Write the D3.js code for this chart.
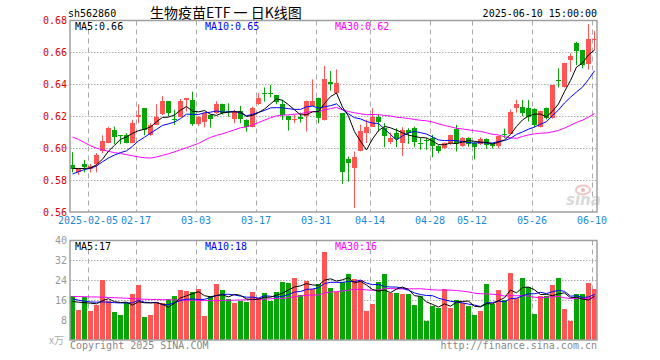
<!DOCTYPE html>
<html><head><meta charset="utf-8">
<script src="https://cdn.jsdelivr.net/npm/d3@7"></script>
<style>body{margin:0;background:#fff}svg{display:block}</style>
</head><body><svg id="c" width="660" height="360"></svg>
<script>
const dates = ["2025-01-23","2025-01-24","2025-01-27",
"2025-02-05","2025-02-06","2025-02-07","2025-02-10","2025-02-11","2025-02-12","2025-02-13","2025-02-14","2025-02-17","2025-02-18","2025-02-19","2025-02-20","2025-02-21","2025-02-24","2025-02-25","2025-02-26","2025-02-27","2025-02-28",
"2025-03-03","2025-03-04","2025-03-05","2025-03-06","2025-03-07","2025-03-10","2025-03-11","2025-03-12","2025-03-13","2025-03-14","2025-03-17","2025-03-18","2025-03-19","2025-03-20","2025-03-21","2025-03-24","2025-03-25","2025-03-26","2025-03-27","2025-03-28","2025-03-31",
"2025-04-01","2025-04-02","2025-04-03","2025-04-07","2025-04-08","2025-04-09","2025-04-10","2025-04-11","2025-04-14","2025-04-15","2025-04-16","2025-04-17","2025-04-18","2025-04-21","2025-04-22","2025-04-23","2025-04-24","2025-04-25","2025-04-28","2025-04-29","2025-04-30",
"2025-05-06","2025-05-07","2025-05-08","2025-05-09","2025-05-12","2025-05-13","2025-05-14","2025-05-15","2025-05-16","2025-05-19","2025-05-20","2025-05-21","2025-05-22","2025-05-23","2025-05-26","2025-05-27","2025-05-28","2025-05-29","2025-05-30",
"2025-06-03","2025-06-04","2025-06-05","2025-06-06","2025-06-09","2025-06-10"];

const open = [0.5894,0.5852,0.5898,0.5869,0.5902,0.5985,0.6035,0.6115,0.6081,0.6085,
0.6035,0.6198,0.6250,0.6081,0.6146,0.6213,0.6296,0.6185,0.6198,0.6302,
0.6302,0.6150,0.6166,0.6208,0.6219,0.6277,0.6231,0.6183,0.6233,0.6177,
0.6135,0.6277,0.6346,0.6346,0.6331,0.6277,0.6202,0.6179,0.6196,0.6202,
0.6267,0.6313,0.6177,0.6415,0.6344,0.6219,0.5933,0.5877,0.5982,0.6098,
0.6135,0.6196,0.6127,0.6036,0.6094,0.6031,0.6115,0.6126,0.6034,0.6052,
0.6063,0.6015,0.5998,0.6031,0.6120,0.6013,0.6062,0.6033,0.6029,0.6058,
0.6027,0.6015,0.6091,0.6090,0.6250,0.6260,0.6250,0.6245,0.6135,0.6250,
0.6188,0.6429,0.6383,0.6554,0.6660,0.6614,0.6527,0.6675];
const high = [0.5975,0.5877,0.5927,0.5902,0.5969,0.6081,0.6135,0.6135,0.6081,0.6094,
0.6177,0.6275,0.6250,0.6156,0.6275,0.6327,0.6296,0.6240,0.6308,0.6313,
0.6354,0.6202,0.6223,0.6210,0.6294,0.6279,0.6281,0.6240,0.6265,0.6180,
0.6260,0.6344,0.6381,0.6396,0.6333,0.6302,0.6204,0.6208,0.6223,0.6298,
0.6431,0.6317,0.6515,0.6483,0.6494,0.6221,0.5948,0.5979,0.6148,0.6179,
0.6250,0.6215,0.6156,0.6098,0.6125,0.6131,0.6125,0.6135,0.6065,0.6063,
0.6083,0.6017,0.6035,0.6085,0.6146,0.6070,0.6068,0.6040,0.6068,0.6062,
0.6032,0.6078,0.6123,0.6242,0.6304,0.6302,0.6302,0.6250,0.6235,0.6255,
0.6397,0.6500,0.6535,0.6594,0.6667,0.6614,0.6777,0.6735];
const low = [0.5848,0.5833,0.5848,0.5848,0.5848,0.5969,0.6031,0.6025,0.6025,0.6031,
0.6031,0.6156,0.6081,0.6077,0.6146,0.6206,0.6198,0.6146,0.6194,0.6229,
0.6140,0.6140,0.6131,0.6129,0.6215,0.6210,0.6198,0.6156,0.6156,0.6104,
0.6131,0.6271,0.6292,0.6319,0.6275,0.6177,0.6110,0.6156,0.6160,0.6104,
0.6265,0.6156,0.6173,0.6360,0.6338,0.5776,0.5790,0.5625,0.5980,0.6033,
0.6133,0.6104,0.6006,0.6027,0.6006,0.5952,0.6027,0.6006,0.5990,0.5990,
0.5943,0.5969,0.5996,0.6021,0.5979,0.6008,0.6010,0.5930,0.6020,0.5996,
0.5998,0.5998,0.6063,0.6088,0.6223,0.6200,0.6167,0.6130,0.6130,0.6180,
0.6185,0.6380,0.6380,0.6479,0.6521,0.6500,0.6492,0.6615];
const close = [0.5871,0.5875,0.5885,0.5890,0.5958,0.6046,0.6127,0.6067,0.6077,0.6035,
0.6160,0.6208,0.6115,0.6146,0.6198,0.6296,0.6219,0.6181,0.6296,0.6313,
0.6150,0.6198,0.6221,0.6181,0.6277,0.6223,0.6227,0.6229,0.6183,0.6135,
0.6250,0.6317,0.6342,0.6342,0.6292,0.6208,0.6177,0.6183,0.6185,0.6296,
0.6296,0.6188,0.6433,0.6402,0.6410,0.5853,0.5904,0.5945,0.6109,0.6133,
0.6196,0.6166,0.6078,0.6065,0.6057,0.6115,0.6094,0.6036,0.6030,0.6048,
0.6016,0.5981,0.6031,0.6083,0.6031,0.6066,0.6025,0.6010,0.6059,0.6022,
0.6015,0.6077,0.6088,0.6225,0.6276,0.6220,0.6198,0.6145,0.6230,0.6188,
0.6397,0.6425,0.6533,0.6577,0.6610,0.6521,0.6681,0.6683];
const volume = [17.7,12.1,17.2,11.7,14.1,24.2,15.7,11.3,10.1,14.8,
18.3,22.3,9.3,9.9,15.3,15.0,16.4,17.7,20.1,19.7,
19.1,20.5,9.7,17.7,22.7,20.1,16.4,14.9,15.7,15.3,
19.3,16.8,18.9,15.8,19.3,23.4,23.1,25.0,18.1,23.8,
20.7,22.4,35.2,20.9,19.2,23.3,26.7,24.6,24.1,11.7,
14.5,23.3,26.7,19.0,18.9,18.5,18.5,14.1,17.7,7.7,
13.7,13.0,20.5,13.0,16.1,14.9,13.7,10.1,11.7,22.6,
14.5,20.1,16.1,27.1,17.0,25.0,21.3,10.5,17.6,17.5,
22.1,25.0,12.5,7.8,18.5,18.5,23.0,20.5];

// moving-average values for days whose window starts before the first shown day
const priceMa5Head = [0.5872,0.5872,0.5873,0.5876];
const priceMa10Head = [0.5838,0.5852,0.5866,0.5874,0.5888,0.5915,0.5938,0.5957,0.5972];
const priceMa30Head = [0.6070,0.6055,0.6035,0.6015,0.6000,0.5990,0.5980,0.5972,0.5966,0.5960,
0.5952,0.5945,0.5940,0.5938,0.5945,0.5955,0.5965,0.5977,0.5990,0.6003,
0.6016,0.6030,0.6050,0.6068,0.6080,0.6090,0.6102,0.6115,0.6128];
const volMa5Head = [15.5,15.2,15.0,14.8];
const volMa10Head = [16.5,16.0,15.6,15.3,15.2,15.3,15.2,15.0,14.9];
const volMa30Head = [17.5,17.5,17.4,17.3,17.3,17.2,17.1,17.0,16.9,16.8,16.6,16.5,16.4,16.3,16.3,16.2,16.2,16.1,16.1,16.0,16.0,15.9,15.9,15.8,15.8,15.9,16.0,16.0,16.1];

const priceTicks = [0.56,0.58,0.60,0.62,0.64,0.66,0.68];
const volTicks = [8,16,24,32,40];
const dateTicks = ["2025-02-05","2025-02-17","2025-03-03","2025-03-17","2025-03-31","2025-04-14","2025-04-28","2025-05-12","2025-05-26","2025-06-10"];
const dateTickLabels = ["2025-02-05","02-17","03-03","03-17","03-31","04-14","04-28","05-12","05-26","06-10"];
const priceMaLabels = ["MA5:0.66","MA10:0.65","MA30:0.62"];
const volMaLabels = ["MA5:17","MA10:18","MA30:16"];

const RED = "#ff5555", GREEN = "#05a605";
const MONO = "'DejaVu Sans Mono', monospace";
const svg = d3.select("#c");
const L = 70, R = 597, PT = 20.5, PB = 212, VT = 240.5, VB = 340;

const x = d3.scaleBand().domain(dates).range([L, R]).paddingInner(1/6).paddingOuter(0);
const bw = x.bandwidth();
const yP = d3.scaleLinear().domain([0.56, 0.68]).range([PB, PT]);
const yV = d3.scaleLinear().domain([0, 40]).range([VB, VT]);

function ma(arr, n, head) {
  return arr.map((v, i) => i < n - 1 ? head[i] : d3.mean(arr.slice(i - n + 1, i + 1)));
}
const rows = dates.map((d, i) => ({d, o: open[i], h: high[i], l: low[i], c: close[i], v: volume[i], up: close[i] >= open[i]}));

// grids
const grid = svg.append("g");
[[PT, PB], [VT, VB]].forEach(([t, b]) => {
  grid.selectAll(null).data(dateTicks).enter().append("line")
    .attr("x1", d => Math.round(x(d)) + 0.5).attr("x2", d => Math.round(x(d)) + 0.5)
    .attr("y1", t).attr("y2", b)
    .attr("stroke", "#aaa").attr("stroke-dasharray", "5,4");
});
grid.selectAll(null).data(priceTicks.slice(1, -1)).enter().append("line")
  .attr("x1", L).attr("x2", R).attr("y1", d => Math.round(yP(d)) + 0.5).attr("y2", d => Math.round(yP(d)) + 0.5)
  .attr("stroke", "#aaa").attr("stroke-dasharray", "1.5,1.5");
grid.selectAll(null).data(volTicks.slice(0, -1)).enter().append("line")
  .attr("x1", L).attr("x2", R).attr("y1", d => Math.round(yV(d)) + 0.5).attr("y2", d => Math.round(yV(d)) + 0.5)
  .attr("stroke", "#aaa").attr("stroke-dasharray", "1.5,1.5");

// watermark
const wm = svg.append("g").attr("opacity", 0.9);
wm.append("ellipse").attr("cx", 583).attr("cy", 190).attr("rx", 7).attr("ry", 4.5)
  .attr("fill", "none").attr("stroke", "#f0c0c0").attr("stroke-width", 2);
wm.append("circle").attr("cx", 583).attr("cy", 190).attr("r", 2).attr("fill", "#e8b0b0");
wm.append("text").attr("x", 566).attr("y", 205).text("sina")
  .attr("font-family", "'DejaVu Sans', sans-serif").attr("font-size", 15).attr("font-weight", "bold")
  .attr("font-style", "italic").attr("fill", "#d6d6d6");

// candles
const cg = svg.append("g");
cg.selectAll(null).data(rows).enter().append("line")
  .attr("x1", d => Math.floor(x(d.d) + bw / 2) + 0.5).attr("x2", d => Math.floor(x(d.d) + bw / 2) + 0.5)
  .attr("y1", d => yP(d.h)).attr("y2", d => yP(d.l))
  .attr("stroke", d => d.up ? RED : GREEN);
cg.selectAll(null).data(rows).enter().append("rect")
  .attr("x", d => Math.round(x(d.d))).attr("width", Math.round(bw))
  .attr("y", d => yP(Math.max(d.o, d.c)))
  .attr("height", d => Math.max(1, Math.abs(yP(d.o) - yP(d.c))))
  .attr("fill", d => d.up ? RED : GREEN).attr("shape-rendering", "crispEdges");

// volume bars
svg.append("g").selectAll(null).data(rows).enter().append("rect")
  .attr("x", d => Math.round(x(d.d))).attr("width", Math.round(bw))
  .attr("y", d => yV(d.v)).attr("height", d => VB - yV(d.v))
  .attr("fill", d => d.up ? RED : GREEN).attr("shape-rendering", "crispEdges");

// MA lines
const maColors = ["#000000", "#0000ff", "#ff00ff"];
const pMa = [ma(close, 5, priceMa5Head), ma(close, 10, priceMa10Head), ma(close, 30, priceMa30Head)];
const vMa = [ma(volume, 5, volMa5Head), ma(volume, 10, volMa10Head), ma(volume, 30, volMa30Head)];
[2, 1, 0].forEach(k => {
  svg.append("path").datum(pMa[k])
    .attr("d", d3.line().x((v, i) => x(dates[i]) + bw / 2).y(v => yP(v)))
    .attr("fill", "none").attr("stroke", maColors[k]).attr("stroke-width", 1);
  svg.append("path").datum(vMa[k])
    .attr("d", d3.line().x((v, i) => x(dates[i]) + bw / 2).y(v => yV(v)))
    .attr("fill", "none").attr("stroke", maColors[k]).attr("stroke-width", 1);
});

// frames
[[PT, PB], [VT, VB]].forEach(([t, b]) => {
  svg.append("rect").attr("x", L).attr("y", t).attr("width", R - L).attr("height", b - t)
    .attr("fill", "none").attr("stroke", "#a0a0a0").attr("stroke-width", 1.5);
});

// axes
const ax1 = svg.append("g").attr("transform", `translate(${L - 3},0)`)
  .call(d3.axisLeft(yP).tickValues(priceTicks).tickFormat(d3.format(".2f")).tickSize(0).tickPadding(0));
ax1.select(".domain").remove();
ax1.selectAll("text").attr("fill", "#e00000").attr("font-family", MONO).attr("font-size", 10);

const ax2 = svg.append("g").attr("transform", `translate(${L - 3},0)`)
  .call(d3.axisLeft(yV).tickValues(volTicks).tickFormat(d3.format("d")).tickSize(0).tickPadding(0));
ax2.select(".domain").remove();
ax2.selectAll("text").attr("fill", "#999").attr("font-family", MONO).attr("font-size", 10);

const ax3 = svg.append("g").attr("transform", `translate(${-bw / 2},${PB})`)
  .call(d3.axisBottom(x).tickValues(dateTicks).tickFormat((d, i) => dateTickLabels[i]).tickSize(0).tickPadding(5));
ax3.select(".domain").remove();
ax3.selectAll("text").attr("fill", "#1a88dd").attr("font-family", MONO).attr("font-size", 10);

// texts
function txt(s, xx, yy, opt) {
  const t = svg.append("text").attr("x", xx).attr("y", yy).text(s)
    .attr("font-family", opt.ff || MONO).attr("font-size", opt.fs || 10).attr("fill", opt.fill || "#000");
  if (opt.anchor) t.attr("text-anchor", opt.anchor);
  return t;
}
txt("sh562860", 68, 17, {});
txt("生物疫苗ETF 一 日K线图", 150, 18, {ff: "'Noto Sans CJK SC', sans-serif", fs: 14});
txt("2025-06-10 15:00:00", R, 17, {anchor: "end"});
const labX = [75, 205, 335];
priceMaLabels.forEach((s, i) => txt(s, labX[i], 30, {fill: maColors[i]}));
volMaLabels.forEach((s, i) => txt(s, labX[i], 250, {fill: maColors[i]}));
txt("x万", 49, 344, {fill: "#aaa", ff: "'Noto Sans CJK SC', sans-serif", fs: 10});
txt("Copyright 2025 SINA.COM", 70, 349, {fill: "#888"});
txt("http://finance.sina.com.cn", R, 349, {fill: "#888", anchor: "end"});
</script>
</body></html>
